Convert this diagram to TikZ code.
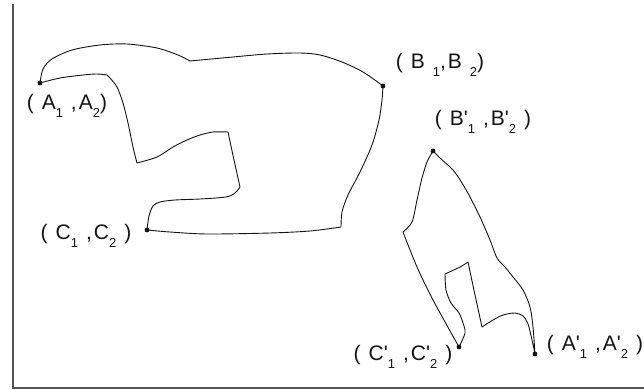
\documentclass[tikz,border=0pt]{standalone}
\usepackage{xcolor,tikz,fontspec}
\setmainfont{Liberation Sans}
\newfontfamily\labfont[LetterSpace=10]{Liberation Sans}
\definecolor{ink}{RGB}{20,20,20}
\definecolor{rule}{RGB}{85,85,85}
\newcommand{\lowidx}[1]{\raisebox{-0.35em}{\fontsize{13}{13}\selectfont #1}}
\newcommand{\tick}{\textquotesingle}
\tikzset{
  curve/.style={draw=ink,line width=0.9pt,line join=round},
  dot/.style={circle,fill=ink,inner sep=1.7pt},
  lab/.style={font=\labfont\fontsize{21}{23}\selectfont,text=ink,inner sep=0pt},
  frame/.style={draw=rule,line width=2pt}
}

\begin{document}
\begin{tikzpicture}[x=1pt,y=-1pt]
  \useasboundingbox (0,0) rectangle (644,390);
  \coordinate (top) at (13,4);
  \coordinate (corner) at (13,388);
  \coordinate (far) at (644,388);
  \draw[frame] (top)--(corner)--(far);

  \node[dot] (A) at (40,83) {};
  \node[dot] (B) at (383,86) {};
  \node[dot] (C) at (147,230) {};
  \node[dot] (Bp) at (433,151) {};
  \node[dot] (Cp) at (459,347) {};
  \node[dot] (Ap) at (535,354) {};

  \node[lab] (Alab) at (67,106) {( A\lowidx{1} ,A\lowidx{2})};
  \node[lab] (Blab) at (440,65) {( B \lowidx{1},B \lowidx{2})};
  \node[lab] (Clab) at (86,236) {( C\lowidx{1} ,C\lowidx{2} )};
  \node[lab] (Bplab) at (483,122) {( B\tick\lowidx{1} ,B\tick\lowidx{2} )};
  \node[lab] (Cplab) at (403,357) {( C\tick\lowidx{1} ,C\tick\lowidx{2} )};
  \node[lab] (Aplab) at (595,347) {( A\tick\lowidx{1} ,A\tick\lowidx{2} )};

  % left region
  \draw[curve] plot[smooth,tension=0.5] coordinates {(A.center) (43,69) (52,59) (72,50) (100,45) (127,44) (157,48) (178,55) (190,61)}
    -- plot[smooth,tension=0.5] coordinates {(190,61) (233,57) (267,54) (300,53) (320,55) (342,62) (363,72) (B.center)}
    -- plot[smooth,tension=0.5] coordinates {(B.center) (382,100) (379,120) (372,145) (360,172) (348,195) (342,212) (341,227)}
    -- plot[smooth,tension=0.5] coordinates {(341,227) (310,231) (270,233) (207,234) (170,232) (C.center)}
    -- plot[smooth,tension=0.5] coordinates {(C.center) (149,216) (153,206) (160,202) (175,200) (200,199) (226,197) (235,193) (240,187)}
    -- plot[smooth,tension=0.5] coordinates {(240,187) (234,160) (228,132)}
    -- plot[smooth,tension=0.5] coordinates {(228,132) (213,132) (200,135) (187,140) (173,147) (157,157) (137,163)}
    -- plot[smooth,tension=0.5] coordinates {(137,163) (133,147) (128,123) (123,103) (117,87) (110,78) (107,75)}
    -- plot[smooth,tension=0.5] coordinates {(107,75) (97,74) (83,75) (60,78) (A.center)};

  % right region
  \draw[curve] plot[smooth,tension=0.5] coordinates {(Bp.center) (440,158) (453,170) (462,183) (470,197) (480,217) (490,240) (497,258) (505,267) (513,277) (523,290) (530,307) (533,327) (Ap.center)}
    -- plot[smooth,tension=0.5] coordinates {(Ap.center) (532,340) (528,324) (523,316) (515,313) (503,315) (493,320) (482,327)}
    -- plot[smooth,tension=0.5] coordinates {(482,327) (475,295) (468,262)}
    -- plot[smooth,tension=0.5] coordinates {(468,262) (460,267) (445,274)}
    -- plot[smooth,tension=0.5] coordinates {(445,274) (446,290) (451,303) (459,313) (463,323) (465,333) (Cp.center)}
    -- plot[smooth,tension=0.5] coordinates {(Cp.center) (433,300) (417,267) (403,232)}
    -- plot[smooth,tension=0.5] coordinates {(403,232) (412,222) (417,200) (422,178) (427,162) (Bp.center)};
\end{tikzpicture}
\end{document}
